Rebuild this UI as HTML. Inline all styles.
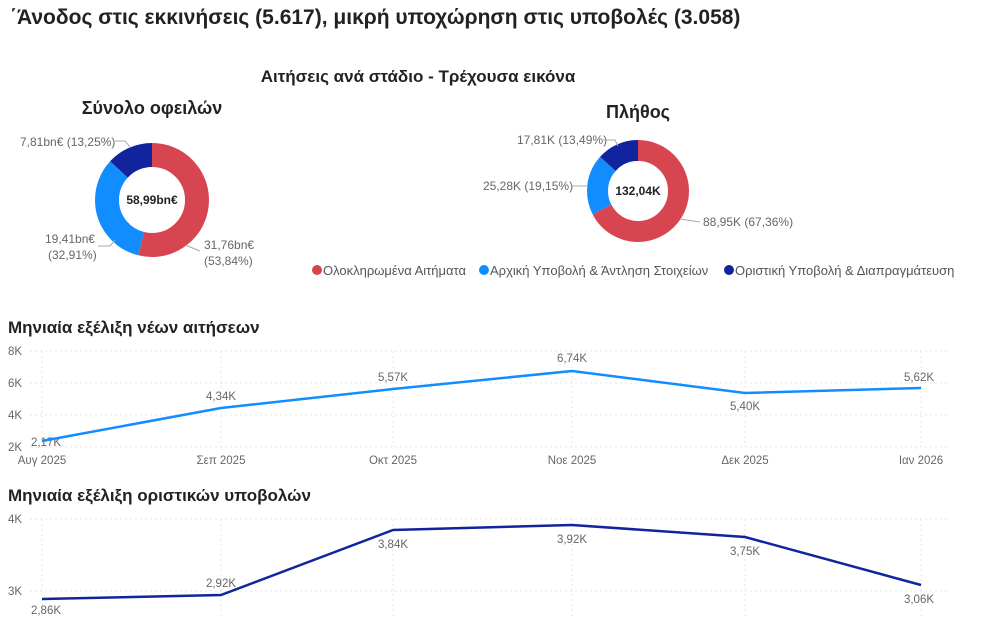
<!DOCTYPE html>
<html><head><meta charset="utf-8"><style>
body{margin:0;background:#fff;width:990px;height:618px;overflow:hidden}
svg text{font-family:"Liberation Sans","DejaVu Sans",sans-serif}
</style></head><body>
<svg width="990" height="618" viewBox="0 0 990 618" xmlns="http://www.w3.org/2000/svg">
<text x="10" y="24" font-size="21" font-weight="bold" fill="#222">΄Άνοδος στις εκκινήσεις (5.617), μικρή υποχώρηση στις υποβολές (3.058)</text>
<text x="418" y="82" font-size="17" font-weight="bold" fill="#222" text-anchor="middle">Αιτήσεις ανά στάδιο - Τρέχουσα εικόνα</text>
<text x="152" y="114" font-size="18" font-weight="bold" fill="#222" text-anchor="middle">Σύνολο οφειλών</text>
<text x="638" y="118" font-size="18" font-weight="bold" fill="#222" text-anchor="middle">Πλήθος</text>
<g transform="rotate(-90 152 200)" fill="none" stroke-width="24">
<circle cx="152" cy="200" r="45" stroke="#D64550" stroke-dasharray="152.2 282.74"/>
<circle cx="152" cy="200" r="45" stroke="#118DFF" stroke-dasharray="0 152.2 93.05 282.74"/>
<circle cx="152" cy="200" r="45" stroke="#12239E" stroke-dasharray="0 245.25 37.5 282.74"/>
</g>
<text x="152" y="204" font-size="12" font-weight="bold" fill="#222" text-anchor="middle">58,99bn€</text>
<g font-size="12" fill="#666">
<text x="20" y="146">7,81bn€ (13,25%)</text>
<text x="45" y="243">19,41bn€</text>
<text x="48" y="259">(32,91%)</text>
<text x="204" y="249">31,76bn€</text>
<text x="204" y="265">(53,84%)</text>
</g>
<g fill="none" stroke="#aaa" stroke-width="1">
<polyline points="115,141 125,141 130,147"/>
<polyline points="98,246 110,246 115,240"/>
<polyline points="185,245 200,251"/>
</g>
<g transform="rotate(-90 638 191)" fill="none" stroke-width="21">
<circle cx="638" cy="191" r="40.5" stroke="#D64550" stroke-dasharray="171.4 254.47"/>
<circle cx="638" cy="191" r="40.5" stroke="#118DFF" stroke-dasharray="0 171.4 48.73 254.47"/>
<circle cx="638" cy="191" r="40.5" stroke="#12239E" stroke-dasharray="0 220.13 34.34 254.47"/>
</g>
<text x="638" y="195" font-size="12" font-weight="bold" fill="#222" text-anchor="middle">132,04K</text>
<g font-size="12" fill="#666">
<text x="517" y="144">17,81K (13,49%)</text>
<text x="483" y="190">25,28K (19,15%)</text>
<text x="703" y="226">88,95K (67,36%)</text>
</g>
<g fill="none" stroke="#aaa" stroke-width="1">
<polyline points="603,140 615,140 618,146"/>
<polyline points="571,186 588,186"/>
<polyline points="680,219 700,222"/>
</g>
<g font-size="13" fill="#555">
<circle cx="317" cy="270" r="5" fill="#D64550"/><text x="323" y="275">Ολοκληρωμένα Αιτήματα</text>
<circle cx="484" cy="270" r="5" fill="#118DFF"/><text x="490" y="275">Αρχική Υποβολή &amp; Άντληση Στοιχείων</text>
<circle cx="729" cy="270" r="5" fill="#12239E"/><text x="735" y="275">Οριστική Υποβολή &amp; Διαπραγμάτευση</text>
</g>
<text x="8" y="333" font-size="17" font-weight="bold" fill="#222">Μηνιαία εξέλιξη νέων αιτήσεων</text>
<g stroke="#e6e6e6" stroke-dasharray="2 3" stroke-width="1">
<line x1="30" y1="351" x2="950" y2="351"/><line x1="30" y1="383" x2="950" y2="383"/>
<line x1="30" y1="415" x2="950" y2="415"/><line x1="30" y1="447" x2="950" y2="447"/>
<line x1="42" y1="351" x2="42" y2="447"/><line x1="221" y1="351" x2="221" y2="447"/>
<line x1="393" y1="351" x2="393" y2="447"/><line x1="572" y1="351" x2="572" y2="447"/>
<line x1="745" y1="351" x2="745" y2="447"/><line x1="921" y1="351" x2="921" y2="447"/>
</g>
<g font-size="11.5" fill="#666">
<text x="8" y="355">8K</text><text x="8" y="387">6K</text><text x="8" y="419">4K</text><text x="8" y="451">2K</text>
<g text-anchor="middle">
<text x="42" y="464">Αυγ 2025</text><text x="221" y="464">Σεπ 2025</text><text x="393" y="464">Οκτ 2025</text>
<text x="572" y="464">Νοε 2025</text><text x="745" y="464">Δεκ 2025</text><text x="921" y="464">Ιαν 2026</text>
<text x="46" y="446">2,17K</text><text x="221" y="400">4,34K</text><text x="393" y="381">5,57K</text>
<text x="572" y="362">6,74K</text><text x="745" y="410">5,40K</text><text x="919" y="381">5,62K</text>
</g></g>
<polyline points="42,441 221,408 393,389 572,371 745,393 921,388" fill="none" stroke="#118DFF" stroke-width="2.5"/>
<text x="8" y="501" font-size="17" font-weight="bold" fill="#222">Μηνιαία εξέλιξη οριστικών υποβολών</text>
<g stroke="#e6e6e6" stroke-dasharray="2 3" stroke-width="1">
<line x1="30" y1="519" x2="950" y2="519"/><line x1="30" y1="591" x2="950" y2="591"/>
<line x1="42" y1="519" x2="42" y2="618"/><line x1="221" y1="519" x2="221" y2="618"/>
<line x1="393" y1="519" x2="393" y2="618"/><line x1="572" y1="519" x2="572" y2="618"/>
<line x1="745" y1="519" x2="745" y2="618"/><line x1="921" y1="519" x2="921" y2="618"/>
</g>
<g font-size="11.5" fill="#666">
<text x="8" y="523">4K</text><text x="8" y="595">3K</text>
<g text-anchor="middle">
<text x="46" y="614">2,86K</text><text x="221" y="587">2,92K</text><text x="393" y="548">3,84K</text>
<text x="572" y="543">3,92K</text><text x="745" y="555">3,75K</text><text x="919" y="603">3,06K</text>
</g></g>
<polyline points="42,599 221,595 393,530 572,525 745,537 921,585" fill="none" stroke="#12239E" stroke-width="2.5"/>
</svg>
</body></html>
